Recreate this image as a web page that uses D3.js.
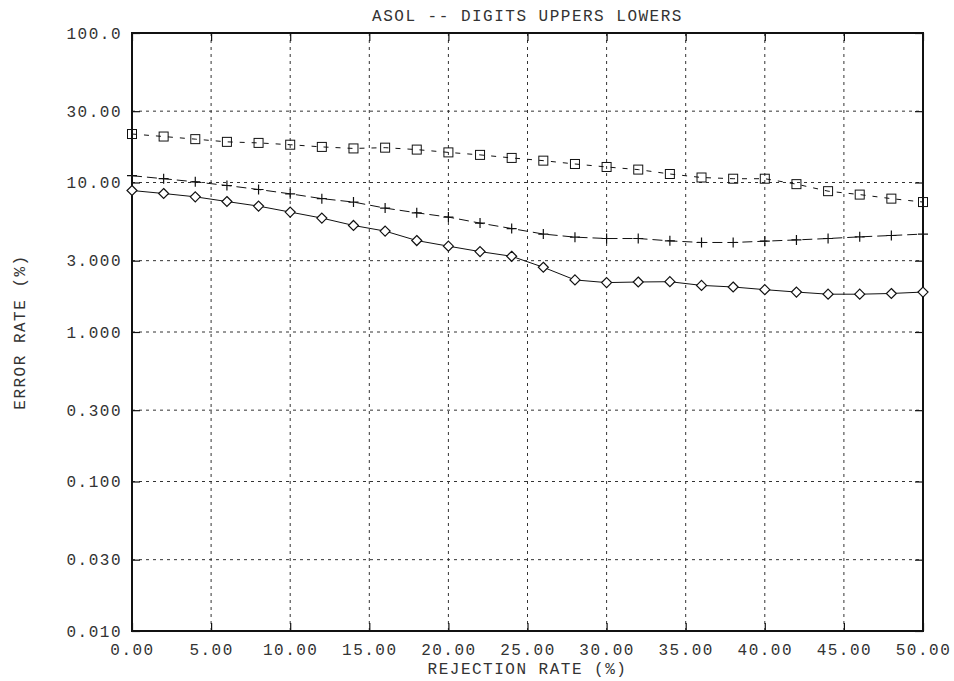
<!DOCTYPE html>
<html>
<head>
<meta charset="utf-8">
<script src="https://cdn.jsdelivr.net/npm/d3@7"></script>
<style>
  body { margin: 0; background: #fff; }
  text { font-family: "Liberation Mono", "DejaVu Sans Mono", monospace; font-size: 16px; letter-spacing: 1.5px; fill: #333; }
</style>
</head>
<body>
<div id="chart"></div>
<script>
// rejection rate (%) for every point
const rejection = [0, 2, 4, 6, 8, 10, 12, 14, 16, 18, 20, 22, 24, 26, 28, 30, 32, 34, 36, 38, 40, 42, 44, 46, 48, 50];

// error rate (%) per series
const squareSeries = [21.1, 20.3, 19.5, 18.7, 18.4, 17.9, 17.3, 16.9, 17.1, 16.6, 15.9, 15.3, 14.6, 14.0, 13.3, 12.7, 12.2, 11.4, 10.8, 10.6, 10.6, 9.75, 8.75, 8.3, 7.8, 7.4];
const plusSeries = [11.1, 10.6, 10.1, 9.55, 8.98, 8.4, 7.8, 7.4, 6.74, 6.27, 5.87, 5.35, 4.92, 4.52, 4.31, 4.22, 4.22, 4.07, 3.97, 3.97, 4.05, 4.13, 4.22, 4.33, 4.42, 4.52];
const diamondSeries = [8.84, 8.44, 8.02, 7.46, 6.95, 6.34, 5.78, 5.16, 4.73, 4.09, 3.75, 3.45, 3.21, 2.71, 2.23, 2.14, 2.16, 2.17, 2.05, 2.00, 1.92, 1.85, 1.79, 1.79, 1.81, 1.85];

const xTicks = [0, 5, 10, 15, 20, 25, 30, 35, 40, 45, 50];
const yTicks = [0.01, 0.03, 0.1, 0.3, 1, 3, 10, 30, 100];
const yTickLabels = ["0.010", "0.030", "0.100", "0.300", "1.000", "3.000", "10.00", "30.00", "100.0"];

const margin = { top: 33, right: 31, bottom: 50, left: 132 },
      width = 954 - margin.left - margin.right,
      height = 681 - margin.top - margin.bottom;

const svg = d3.select("#chart")
  .append("svg")
  .attr("width", 954)
  .attr("height", 681);

const g = svg.append("g")
  .attr("transform", `translate(${margin.left},${margin.top})`);

const x = d3.scaleLinear().domain([0, 50]).range([0, width]);
const y = d3.scaleLog().domain([0.01, 100]).range([height, 0]);

// dotted grid
g.selectAll(".vgrid")
  .data(xTicks.slice(1, -1))
  .enter()
  .append("line")
  .attr("x1", d => x(d)).attr("x2", d => x(d))
  .attr("y1", 0).attr("y2", height)
  .attr("stroke", "#333")
  .attr("stroke-width", 1)
  .attr("stroke-dasharray", "3,4");

g.selectAll(".hgrid")
  .data(yTicks.slice(1, -1))
  .enter()
  .append("line")
  .attr("x1", 0).attr("x2", width)
  .attr("y1", d => y(d)).attr("y2", d => y(d))
  .attr("stroke", "#333")
  .attr("stroke-width", 1)
  .attr("stroke-dasharray", "3,4");

// axes with inward ticks
g.append("g")
  .attr("transform", `translate(0,${height})`)
  .call(d3.axisBottom(x).tickValues(xTicks).tickSize(-8).tickPadding(13).tickFormat(d => d.toFixed(2)))
  .call(a => a.select(".domain").remove());

g.append("g")
  .call(d3.axisTop(x).tickValues(xTicks).tickSize(-8).tickFormat(""))
  .call(a => a.select(".domain").remove());

g.append("g")
  .call(d3.axisLeft(y).tickValues(yTicks).tickSize(-8).tickPadding(10).tickFormat((d, i) => yTickLabels[i]))
  .call(a => a.select(".domain").remove());

g.append("g")
  .attr("transform", `translate(${width},0)`)
  .call(d3.axisRight(y).tickValues(yTicks).tickSize(-8).tickFormat(""))
  .call(a => a.select(".domain").remove());

g.selectAll(".tick line").attr("stroke", "#111").attr("stroke-width", 1.2);
g.selectAll(".tick text")
  .style("font-family", "'Liberation Mono', monospace")
  .style("font-size", "16px")
  .attr("fill", "#333");

// frame
g.append("rect")
  .attr("width", width)
  .attr("height", height)
  .attr("fill", "none")
  .attr("stroke", "#111")
  .attr("stroke-width", 2);

// series
const line = d3.line()
  .x((d, i) => x(rejection[i]))
  .y(d => y(d));

g.append("path")
  .datum(squareSeries)
  .attr("d", line)
  .attr("fill", "none")
  .attr("stroke", "#111")
  .attr("stroke-width", 1)
  .attr("stroke-dasharray", "5,7");

g.append("path")
  .datum(plusSeries)
  .attr("d", line)
  .attr("fill", "none")
  .attr("stroke", "#111")
  .attr("stroke-width", 1)
  .attr("stroke-dasharray", "10,5");

g.append("path")
  .datum(diamondSeries)
  .attr("d", line)
  .attr("fill", "none")
  .attr("stroke", "#111")
  .attr("stroke-width", 1);

// markers
g.selectAll(".sq")
  .data(squareSeries)
  .enter()
  .append("rect")
  .attr("x", (d, i) => x(rejection[i]) - 4.5)
  .attr("y", d => y(d) - 4.5)
  .attr("width", 9)
  .attr("height", 9)
  .attr("fill", "none")
  .attr("stroke", "#111")
  .attr("stroke-width", 1);

g.selectAll(".plus")
  .data(plusSeries)
  .enter()
  .append("path")
  .attr("d", (d, i) => {
    const cx = x(rejection[i]), cy = y(d);
    return `M${cx - 5},${cy}H${cx + 5}M${cx},${cy - 5}V${cy + 5}`;
  })
  .attr("stroke", "#111")
  .attr("stroke-width", 1.2);

g.selectAll(".dia")
  .data(diamondSeries)
  .enter()
  .append("path")
  .attr("d", (d, i) => {
    const cx = x(rejection[i]), cy = y(d);
    return `M${cx},${cy - 5}L${cx + 5},${cy}L${cx},${cy + 5}L${cx - 5},${cy}Z`;
  })
  .attr("fill", "#fff")
  .attr("stroke", "#111")
  .attr("stroke-width", 1.2);

// titles
svg.append("text")
  .attr("x", margin.left + width / 2)
  .attr("y", 21)
  .attr("text-anchor", "middle")
  .text("ASOL -- DIGITS UPPERS LOWERS");

svg.append("text")
  .attr("x", margin.left + width / 2)
  .attr("y", 674)
  .attr("text-anchor", "middle")
  .text("REJECTION RATE (%)");

svg.append("text")
  .attr("transform", `translate(25,${margin.top + height / 2}) rotate(-90)`)
  .attr("text-anchor", "middle")
  .text("ERROR RATE (%)");
</script>
</body>
</html>
